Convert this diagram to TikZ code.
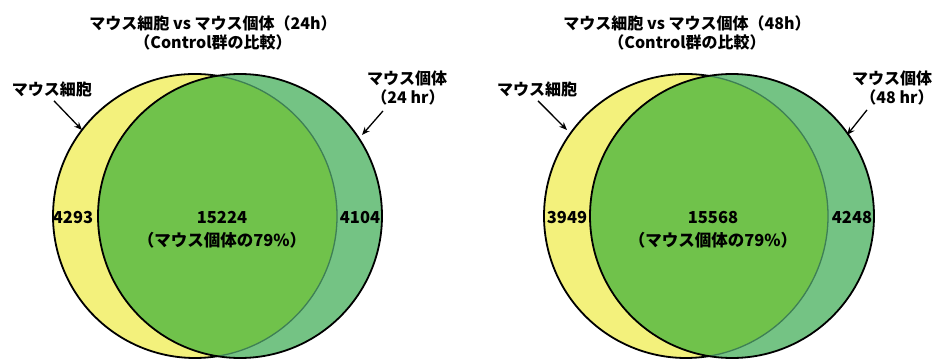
\documentclass[tikz,border=0pt]{standalone}
\usepackage{fontspec}
\setmainfont{Noto Sans CJK JP}
\usetikzlibrary{arrows.meta}
\definecolor{cellyel}{HTML}{F3F17C}
\definecolor{ovgreen}{HTML}{70C24B}
\definecolor{indgreen}{HTML}{74C384}
\definecolor{innerline}{HTML}{3E7F55}
\tikzset{
  lbl/.style={font=\bfseries\fontsize{16}{19}\selectfont, inner sep=0pt, align=center},
  num/.style={font=\bfseries\fontsize{16.5}{20}\selectfont, inner sep=0pt, align=center},
  ptr/.style={line width=1.3pt, -{Stealth[length=8pt,width=6.5pt]}},
  outline/.style={line width=1.8pt, black},
}
\newcommand{\venn}[3]{%
  % #1 yellow center x, #2 green center x, #3 half-angle
  \fill[cellyel] (#1,144) circle (142pt);
  \fill[indgreen] (#2,144) circle (142pt);
  \begin{scope}
    \clip (#1,144) circle (142pt);
    \fill[ovgreen] (#2,144) circle (142pt);
  \end{scope}
  \draw[innerline, line width=1.3pt] (#1,144) ++(-#3:142pt) arc[start angle=-#3, end angle=#3, radius=142pt];
  \draw[outline] (#2,144) circle (142pt);
  \draw[outline] (#1,144) ++(#3:142pt) arc[start angle=#3, end angle=360-#3, radius=142pt];
}
\begin{document}
\begin{tikzpicture}[x=1pt,y=1pt]
\useasboundingbox[fill=white] (0,0) rectangle (938,360);
% left diagram
\venn{195}{240}{80.9}
\node[lbl] (t1a) at (213,337) {マウス細胞 vs マウス個体（24h）};
\node[lbl] (t1b) at (213,318) {（Control群の比較）};
\node[lbl] (c1) at (52,271) {マウス細胞};
\node[lbl] (m1a) at (407,282) {マウス個体};
\node[lbl] (m1b) at (408,263) {（24 hr）};
\coordinate (c1tip) at (82,230);
\coordinate (m1tip) at (362,225);
\draw[ptr] (c1.south)++(2,-4) coordinate (c1s) (c1s) -- (c1tip);
\draw[ptr] (m1b.south)++(-25,-6) coordinate (m1s) (m1s) -- (m1tip);
\node[num] (n1a) at (73,142) {4293};
\node[num] (n1b) at (222,142) {15224};
\node[num] (n1c) at (222,120) {（マウス個体の79\%）};
\node[num] (n1d) at (360,142) {4104};
% right diagram
\venn{686}{732}{80.7}
\node[lbl] (t2a) at (687,337) {マウス細胞 vs マウス個体（48h）};
\node[lbl] (t2b) at (687,318) {（Control群の比較）};
\node[lbl] (c2) at (537,271) {マウス細胞};
\node[lbl] (m2a) at (892,282) {マウス個体};
\node[lbl] (m2b) at (897,263) {（48 hr）};
\coordinate (c2tip) at (567,230);
\coordinate (m2tip) at (847,225);
\draw[ptr] (c2.south)++(1,-4) coordinate (c2s) (c2s) -- (c2tip);
\draw[ptr] (m2b.south)++(-30,-5) coordinate (m2s) (m2s) -- (m2tip);
\node[num] (n2a) at (567,142) {3949};
\node[num] (n2b) at (713,142) {15568};
\node[num] (n2c) at (713,120) {（マウス個体の79\%）};
\node[num] (n2d) at (852,142) {4248};
\end{tikzpicture}
\end{document}
